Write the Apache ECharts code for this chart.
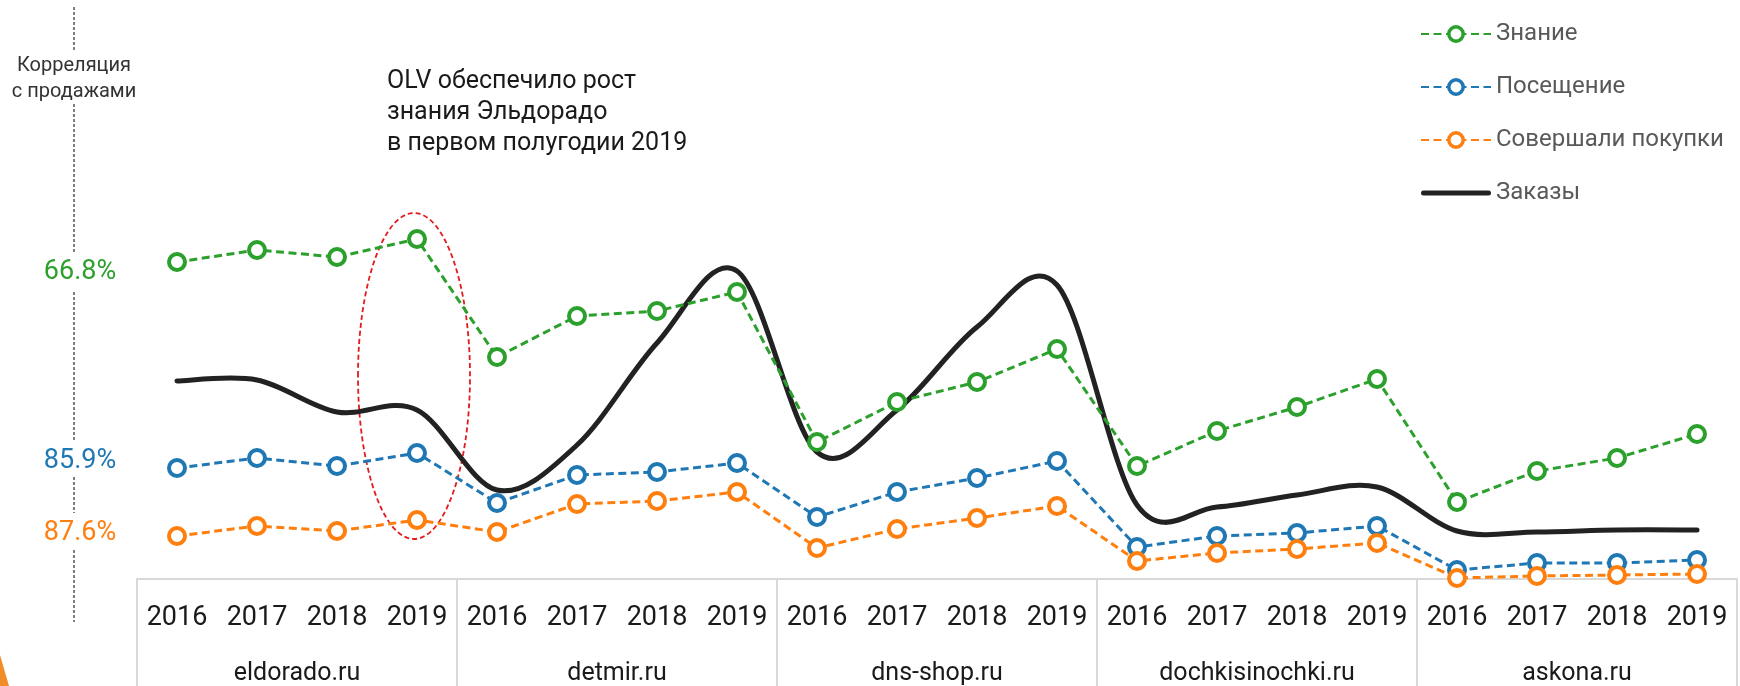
<!DOCTYPE html>
<html>
<head>
<meta charset="utf-8">
<script src="https://cdn.jsdelivr.net/npm/echarts@6/dist/echarts.min.js"></script>
<style>
html,body{margin:0;padding:0;background:#fff;}
#chart{width:1740px;height:686px;}
</style>
</head>
<body>
<div id="chart"></div>
<script>
// ---- data (relative index scale 0..100) ----
const years = ['2016','2017','2018','2019','2016','2017','2018','2019','2016','2017','2018','2019','2016','2017','2018','2019','2016','2017','2018','2019'];
const groups = ['eldorado.ru','detmir.ru','dns-shop.ru','dochkisinochki.ru','askona.ru'];
const znanie = [63.4,65.8,64.4,68.0, 44.4,52.6,53.6,57.4, 27.4,35.4,39.4,46.0, 22.6,29.6,34.4,40.0, 15.4,21.6,24.2,29.0];
const poseshenie = [22.2,24.2,22.6,25.2, 15.2,20.8,21.4,23.2, 12.4,17.4,20.2,23.6, 6.4,8.6,9.2,10.6, 1.8,3.2,3.2,3.8];
const pokupki = [8.6,10.6,9.6,11.8, 9.4,15.0,15.6,17.4, 6.2,10.0,12.2,14.6, 3.6,5.2,6.0,7.2, 0.2,0.6,0.8,1.0];
const zakazy = [39.6,39.8,33.4,33.8, 17.8,26.8,47.2,61.6, 25.4,33.8,50.4,58.8, 14.8,14.4,16.8,18.4, 9.6,9.4,9.8,9.8];
const corrLabels = ['66.8%','85.9%','87.6%'];
const seriesNames = ['Знание','Посещение','Совершали покупки','Заказы'];
const annotation = 'OLV обеспечило рост\nзнания Эльдорадо\nв первом полугодии 2019';
const corrTitle = 'Корреляция\nс продажами';

const GREEN = '#2ca02c', BLUE = '#1f77b4', ORANGE = '#ff7f0e', BLACK = '#222222';
const FONT = 'Roboto, "Liberation Sans", Arial, sans-serif';

function dashedSeries(name, data, color) {
  return {
    name: name, type: 'line', data: data, xAxisIndex: 0, yAxisIndex: 0,
    symbol: 'circle', symbolSize: 16, z: 3,
    itemStyle: { color: '#ffffff', borderColor: color, borderWidth: 4 },
    lineStyle: { color: color, width: 3, type: [8, 4.5] },
    emphasis: { disabled: true }
  };
}

// smooth (Catmull-Rom) curve through the order values, positioned by the axes
function renderSpline(params, api) {
  if (params.dataIndex !== 0) return null;
  const pts = zakazy.map((v, i) => api.coord([i, v]));
  const n = pts.length;
  let d = 'M' + pts[0][0] + ',' + pts[0][1];
  for (let i = 0; i < n - 1; i++) {
    const p0 = pts[Math.max(i - 1, 0)], p1 = pts[i], p2 = pts[i + 1], p3 = pts[Math.min(i + 2, n - 1)];
    const c1x = p1[0] + (p2[0] - p0[0]) / 6, c1y = p1[1] + (p2[1] - p0[1]) / 6;
    const c2x = p2[0] - (p3[0] - p1[0]) / 6, c2y = p2[1] - (p3[1] - p1[1]) / 6;
    d += ' C' + c1x + ',' + c1y + ' ' + c2x + ',' + c2y + ' ' + p2[0] + ',' + p2[1];
  }
  return {
    type: 'path', shape: { pathData: d },
    style: { fill: 'none', stroke: BLACK, lineWidth: 5, lineCap: 'round', lineJoin: 'round' }
  };
}

const chart = echarts.init(document.getElementById('chart'), null, { renderer: 'canvas' });

const dashSegs = [[7,52],[104,252],[292,440],[477,513],[550,622]];
const graphics = [];
dashSegs.forEach(s => graphics.push({
  type: 'line', shape: { x1: 74, y1: s[0], x2: 74, y2: s[1] },
  style: { stroke: '#555', lineWidth: 1.5, lineDash: [3, 2] }, silent: true
}));
graphics.push({
  type: 'text', x: 74, y: 79,
  style: { text: corrTitle, font: '20px ' + FONT, fill: '#333', align: 'center', verticalAlign: 'middle', lineHeight: 26 }
});
const corrY = [272, 461, 533];
const corrC = [GREEN, BLUE, ORANGE];
corrLabels.forEach((t, i) => graphics.push({
  type: 'text', x: 80, y: corrY[i],
  style: { text: t, font: '27px ' + FONT, fill: corrC[i], align: 'center', verticalAlign: 'middle' }
}));
graphics.push({
  type: 'text', x: 387, y: 113,
  style: { text: annotation, font: '25px ' + FONT, fill: '#1a1a1a', align: 'left', verticalAlign: 'middle', lineHeight: 31 }
});
graphics.push({
  type: 'polygon', shape: { points: [[0,655],[0,686],[9,686]] },
  style: { fill: '#f28c28' }, silent: true
});

chart.setOption({
  animation: false,
  backgroundColor: '#fff',
  textStyle: { fontFamily: FONT },
  grid: { left: 137, right: 3, top: 79, bottom: 107, containLabel: false },
  legend: {
    orient: 'vertical', left: 1415, top: 17,
    itemWidth: 70, itemHeight: 18, itemGap: 29,
    itemStyle: { borderWidth: 3.5 },
    textStyle: { fontSize: 24, color: '#595959', fontFamily: FONT },
    data: [
      seriesNames[0], seriesNames[1], seriesNames[2],
      { name: seriesNames[3], icon: 'path://M2.5,0 L67.5,0 A2.5,2.5 0 0 1 67.5,5 L2.5,5 A2.5,2.5 0 0 1 2.5,0 Z', itemStyle: { color: BLACK, borderWidth: 0 } }
    ]
  },
  xAxis: [
    {
      type: 'category', data: years, position: 'bottom', boundaryGap: true,
      axisLine: { show: true, lineStyle: { color: '#d9d9d9', width: 2 } },
      axisTick: { show: false },
      axisLabel: { fontSize: 27, color: '#1a1a1a', margin: 26, fontFamily: FONT, interval: 0 }
    },
    {
      type: 'category', data: groups, position: 'bottom', boundaryGap: true,
      axisLine: { show: false },
      axisTick: { show: true, length: 107, lineStyle: { color: '#d9d9d9', width: 2 } },
      axisLabel: { fontSize: 25, color: '#1a1a1a', margin: 82, fontFamily: FONT, interval: 0 }
    }
  ],
  yAxis: { type: 'value', min: 0, max: 100, show: false },
  series: [
    dashedSeries(seriesNames[0], znanie, GREEN),
    dashedSeries(seriesNames[1], poseshenie, BLUE),
    dashedSeries(seriesNames[2], pokupki, ORANGE),
    {
      name: seriesNames[3], type: 'custom', xAxisIndex: 0, yAxisIndex: 0, z: 2,
      data: zakazy.map((v, i) => [i, v]),
      renderItem: renderSpline,
      itemStyle: { color: BLACK },
      encode: { x: 0, y: 1 },
      emphasis: { disabled: true }
    }
  ],
  graphic: graphics
});

// annotation ellipse around eldorado 2019
const c = chart.convertToPixel({ xAxisIndex: 0, yAxisIndex: 0 }, [3, 40]);
graphics.push({
  type: 'ellipse', shape: { cx: c[0] - 3, cy: 376, rx: 56, ry: 163 },
  style: { fill: 'none', stroke: '#e41a1c', lineWidth: 1.8, lineDash: [5, 3] }, silent: true
});
chart.setOption({ graphic: graphics });
</script>
</body>
</html>
